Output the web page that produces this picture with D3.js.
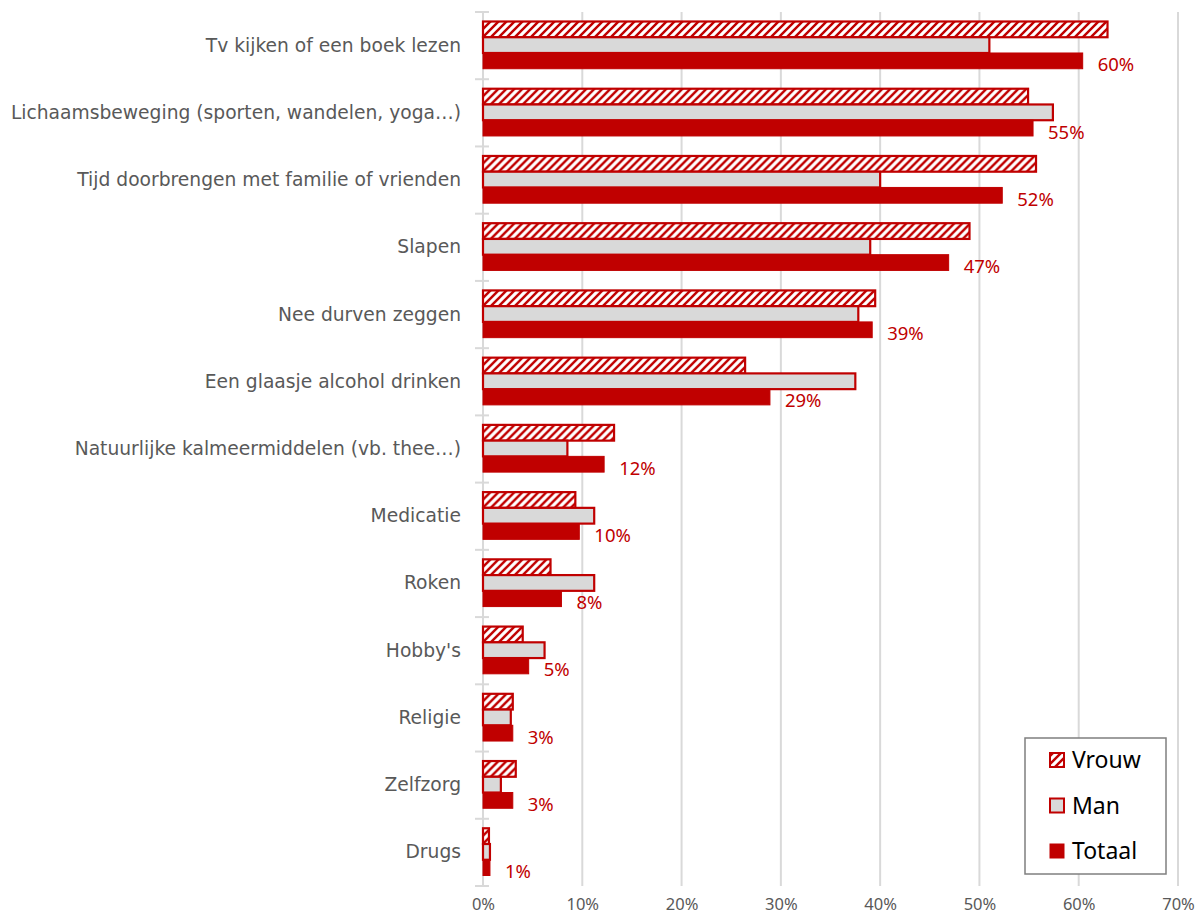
<!DOCTYPE html>
<html>
<head>
<meta charset="utf-8">
<script src="https://cdn.jsdelivr.net/npm/d3@7"></script>
<style>
  body { margin: 0; background: #fff; }
  svg { display: block; }
</style>
</head>
<body>
<script>
// chart data
const categories = [
  "Tv kijken of een boek lezen",
  "Lichaamsbeweging (sporten, wandelen, yoga…)",
  "Tijd doorbrengen met familie of vrienden",
  "Slapen",
  "Nee durven zeggen",
  "Een glaasje alcohol drinken",
  "Natuurlijke kalmeermiddelen (vb. thee…)",
  "Medicatie",
  "Roken",
  "Hobby's",
  "Religie",
  "Zelfzorg",
  "Drugs"
];
const series = ["Vrouw", "Man", "Totaal"];
const vrouw  = [62.9, 54.9, 55.7, 49.0, 39.5, 26.4, 13.2, 9.3, 6.8, 4.0, 3.0, 3.3, 0.6];
const man    = [51.0, 57.4, 40.0, 39.0, 37.8, 37.5, 8.5, 11.2, 11.2, 6.2, 2.8, 1.8, 0.7];
const totaal = [60.4, 55.4, 52.3, 46.9, 39.2, 28.9, 12.2, 9.7, 7.9, 4.6, 3.0, 3.0, 0.7];
const xTicks = [0, 10, 20, 30, 40, 50, 60, 70];

const width = 1197;
const height = 917;
const red = "#C00000";
const grey = "#D9D9D9";

const values = { Vrouw: vrouw, Man: man, Totaal: totaal };

const svg = d3.select("body")
  .append("svg")
  .attr("width", width)
  .attr("height", height);

// hatched fill for Vrouw
const defs = svg.append("defs");
const pat = defs.append("pattern")
  .attr("id", "hatch")
  .attr("patternUnits", "userSpaceOnUse")
  .attr("width", 8)
  .attr("height", 8);
pat.append("rect").attr("width", 8).attr("height", 8).attr("fill", red);
pat.append("path")
  .attr("d", "M-2,2 l4,-4 M0,8 l8,-8 M6,10 l4,-4")
  .attr("stroke", "#fff")
  .attr("stroke-width", 3.2);

const x = d3.scaleLinear()
  .domain([0, 70])
  .range([483, 1178]);

const y = d3.scaleBand()
  .domain(categories)
  .range([12, 886])
  .padding(0);

const inner = d3.scaleBand()
  .domain(series)
  .range([9.5, y.bandwidth() - 10.5])
  .padding(0);

// gridlines
svg.append("g")
  .selectAll("line")
  .data(xTicks.slice(1))
  .join("line")
  .attr("x1", d => x(d))
  .attr("x2", d => x(d))
  .attr("y1", 12)
  .attr("y2", 886)
  .attr("stroke", "#D9D9D9")
  .attr("stroke-width", 2);

// x axis labels
const xAxis = d3.axisBottom(x)
  .tickValues(xTicks)
  .tickFormat(d => d + "%")
  .tickSize(0)
  .tickPadding(12);

svg.append("g")
  .attr("transform", "translate(0,886)")
  .call(xAxis)
  .call(g => g.select(".domain").remove())
  .call(g => g.selectAll("text")
    .attr("fill", "#595959")
    .attr("font-family", "Noto Sans")
    .attr("font-size", 16.5));

// category axis
const yAxis = d3.axisLeft(y)
  .tickSize(0)
  .tickPadding(22);

svg.append("g")
  .attr("transform", "translate(483,0)")
  .call(yAxis)
  .call(g => g.select(".domain").remove())
  .call(g => g.selectAll("text")
    .attr("fill", "#595959")
    .attr("font-family", "DejaVu Sans")
    .attr("font-size", 18.7));

svg.append("line")
  .attr("x1", 483).attr("x2", 483)
  .attr("y1", 12).attr("y2", 886)
  .attr("stroke", "#D9D9D9")
  .attr("stroke-width", 2);

const boundaries = d3.range(categories.length + 1).map(i => 12 + i * y.step());
svg.append("g")
  .selectAll("line")
  .data(boundaries)
  .join("line")
  .attr("x1", 475).attr("x2", 489)
  .attr("y1", d => d).attr("y2", d => d)
  .attr("stroke", "#D9D9D9")
  .attr("stroke-width", 2);

// bars
const groups = svg.append("g")
  .selectAll("g")
  .data(categories)
  .join("g")
  .attr("transform", d => `translate(0,${y(d)})`);

series.forEach(s => {
  groups.append("rect")
    .attr("x", x(0))
    .attr("y", inner(s))
    .attr("width", (d, i) => x(values[s][i]) - x(0))
    .attr("height", inner.bandwidth())
    .attr("fill", s === "Vrouw" ? "url(#hatch)" : s === "Man" ? grey : red)
    .attr("stroke", red)
    .attr("stroke-width", s === "Totaal" ? 1 : 2.2);
});

// value labels next to Totaal bars
groups.append("text")
  .attr("x", (d, i) => x(totaal[i]) + 15)
  .attr("y", inner("Totaal") + inner.bandwidth() / 2 + 4)
  .attr("dy", "0.35em")
  .attr("fill", red)
  .attr("font-family", "Noto Sans")
  .attr("font-size", 18.5)
  .text((d, i) => Math.round(totaal[i]) + "%");

// legend
const legend = svg.append("g");
legend.append("rect")
  .attr("x", 1025).attr("y", 738)
  .attr("width", 141).attr("height", 136)
  .attr("fill", "#fff")
  .attr("stroke", "#7F7F7F")
  .attr("stroke-width", 1.5);

const items = legend.selectAll("g.item")
  .data(series)
  .join("g")
  .attr("class", "item")
  .attr("transform", (d, i) => `translate(1050,${760 + i * 45.5})`);

items.append("rect")
  .attr("x", 0).attr("y", -7)
  .attr("width", 14).attr("height", 14)
  .attr("fill", d => d === "Vrouw" ? "url(#hatch)" : d === "Man" ? grey : red)
  .attr("stroke", red)
  .attr("stroke-width", d => d === "Totaal" ? 1 : 2);

items.append("text")
  .attr("x", 22)
  .attr("dy", "0.35em")
  .attr("fill", "#000")
  .attr("font-family", "Noto Sans")
  .attr("font-size", 23)
  .text(d => d);
</script>
</body>
</html>
